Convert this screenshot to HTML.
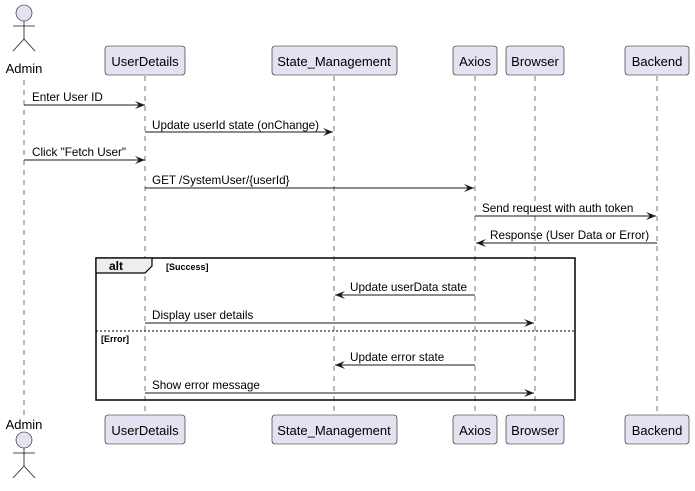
<!DOCTYPE html>
<html><head><meta charset="utf-8"><style>body{margin:0;background:#fff}svg{display:block}text{font-family:"Liberation Sans",sans-serif;font-size:13px;fill:#000}</style></head><body>
<svg width="695" height="491" viewBox="0 0 695 491" xmlns="http://www.w3.org/2000/svg">
<defs><marker id="a" markerWidth="10" markerHeight="8" refX="10" refY="4" orient="auto" markerUnits="userSpaceOnUse"><path d="M0,0 L10,4 L0,8 L4,4 Z" fill="#181818"/></marker></defs>
<g stroke="#181818" stroke-width="0.6" stroke-dasharray="5,5">
<line x1="24" y1="80" x2="24" y2="415"/><line x1="145" y1="76" x2="145" y2="415"/><line x1="334" y1="76" x2="334" y2="415"/><line x1="475" y1="76" x2="475" y2="415"/><line x1="535" y1="76" x2="535" y2="415"/><line x1="657" y1="76" x2="657" y2="415"/>
</g>
<g fill="#E2E2F0" stroke="#181818" stroke-width="0.6">
<rect x="105" y="46" width="80" height="29" rx="3"/><rect x="272" y="46" width="125" height="29" rx="3"/><rect x="453" y="46" width="44" height="29" rx="3"/><rect x="506" y="46" width="58" height="29" rx="3"/><rect x="625" y="46" width="64" height="29" rx="3"/>
<rect x="105" y="415" width="80" height="29" rx="3"/><rect x="272" y="415" width="125" height="29" rx="3"/><rect x="453" y="415" width="44" height="29" rx="3"/><rect x="506" y="415" width="58" height="29" rx="3"/><rect x="625" y="415" width="64" height="29" rx="3"/>
<circle cx="24" cy="13" r="8"/><circle cx="24" cy="440" r="8"/>
</g>
<g stroke="#181818" stroke-width="0.8" fill="none">
<path d="M24,21 V39 M13,26 H35 M24,39 L13,51 M24,39 L35,51"/>
<path d="M24,448 V466 M13,453 H35 M24,466 L13,478 M24,466 L35,478"/>
</g>
<g text-anchor="middle">
<text x="24" y="73">Admin</text><text x="145" y="66">UserDetails</text><text x="334" y="66">State_Management</text><text x="475" y="66">Axios</text><text x="535" y="66">Browser</text><text x="657" y="66">Backend</text>
<text x="24" y="429">Admin</text><text x="145" y="435">UserDetails</text><text x="334" y="435">State_Management</text><text x="475" y="435">Axios</text><text x="535" y="435">Browser</text><text x="657" y="435">Backend</text>
</g>
<rect x="96" y="258" width="479" height="142" fill="none" stroke="#000" stroke-width="1.5"/>
<path d="M96,258 H152 V266 L145,273 H96 Z" fill="#EEEEEE" stroke="#000" stroke-width="1.2"/>
<text x="109" y="270" style="font-weight:bold;font-size:12px">alt</text>
<text x="166" y="270" style="font-weight:bold;font-size:9px">[Success]</text>
<line x1="96" y1="331" x2="575" y2="331" stroke="#000" stroke-width="1" stroke-dasharray="2,2"/>
<text x="101" y="342" style="font-weight:bold;font-size:9px">[Error]</text>
<g stroke="#181818" stroke-width="1" marker-end="url(#a)">
<line x1="24" y1="105" x2="145" y2="105"/><line x1="145" y1="132" x2="333" y2="132"/><line x1="24" y1="160" x2="145" y2="160"/><line x1="145" y1="188" x2="474" y2="188"/><line x1="475" y1="216" x2="656" y2="216"/><line x1="657" y1="243" x2="476" y2="243"/><line x1="475" y1="295" x2="335" y2="295"/><line x1="145" y1="323" x2="534" y2="323"/><line x1="475" y1="365" x2="335" y2="365"/><line x1="145" y1="393" x2="534" y2="393"/>
</g>
<g>
<text x="32" y="101" style="font-size:11.7px">Enter User ID</text>
<text x="152" y="129" style="font-size:11.7px">Update userId state (onChange)</text>
<text x="32" y="156" style="font-size:11.7px">Click "Fetch User"</text>
<text x="152" y="184" style="font-size:11.7px">GET /SystemUser/{userId}</text>
<text x="482" y="212" style="font-size:11.7px">Send request with auth token</text>
<text x="490" y="239" style="font-size:11.7px">Response (User Data or Error)</text>
<text x="350" y="291" style="font-size:11.7px">Update userData state</text>
<text x="152" y="319" style="font-size:11.7px">Display user details</text>
<text x="350" y="361" style="font-size:11.7px">Update error state</text>
<text x="152" y="389" style="font-size:11.7px">Show error message</text>
</g>
</svg>
</body></html>
